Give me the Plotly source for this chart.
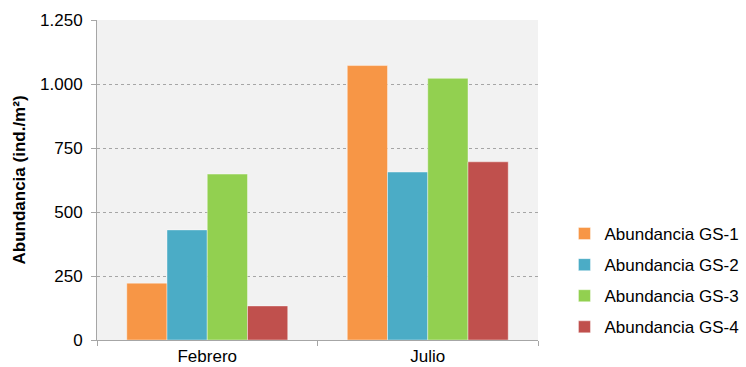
import plotly.graph_objects as go

categories = ["Febrero", "Julio"]
series_names = ["Abundancia GS-1", "Abundancia GS-2", "Abundancia GS-3", "Abundancia GS-4"]
gs1 = [222, 1072]
gs2 = [430, 656]
gs3 = [648, 1022]
gs4 = [133, 696]
colors = ["#F79646", "#4BACC6", "#92D050", "#C0504D"]
y_ticks = [0, 250, 500, 750, 1000, 1250]
y_tick_labels = ["0", "250", "500", "750", "1.000", "1.250"]

fig = go.Figure()
for i, (name, vals) in enumerate(zip(series_names, [gs1, gs2, gs3, gs4])):
    fig.add_trace(go.Bar(
        x=categories, y=vals, name=name,
        marker=dict(color=colors[i], line=dict(color="rgba(255,255,255,0.4)", width=1)),
        legendgroup=f"g{i}",
    ))

fig.update_layout(
    width=746, height=367,
    margin=dict(l=97, r=208, t=20, b=27, autoexpand=False),
    paper_bgcolor="white",
    plot_bgcolor="#F2F2F2",
    barmode="group",
    bargap=0.27,
    bargroupgap=0,
    font=dict(family="Liberation Sans, Arial, sans-serif", size=17, color="#000000"),
    legend=dict(x=1.06, y=0.186, xanchor="left", yanchor="middle",
                font=dict(size=17), tracegroupgap=6, bgcolor="rgba(0,0,0,0)"),
    xaxis=dict(
        showline=True, linecolor="#A6A6A6", linewidth=1,
        ticks="outside", tickson="boundaries", ticklen=5, tickcolor="#A6A6A6",
        tickfont=dict(size=17), automargin=False, ticklabelstandoff=1,
    ),
    yaxis=dict(
        range=[0, 1250], tickvals=y_ticks, ticktext=y_tick_labels,
        showline=True, linecolor="#A6A6A6", linewidth=1,
        ticks="outside", ticklen=5, tickcolor="#A6A6A6",
        showgrid=True, gridcolor="#A6A6A6", griddash="dot", gridwidth=1,
        zeroline=False, automargin=False,
        tickfont=dict(size=17), ticklabelstandoff=5,
        title=dict(text="<b>Abundancia (ind./m²)</b>", font=dict(size=17), standoff=10),
    ),
)

fig.write_html("out.html")
